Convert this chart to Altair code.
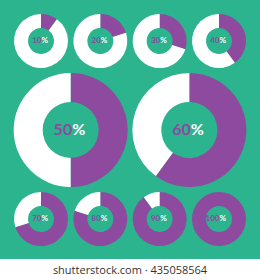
import math
import altair as alt
import pandas as pd

# ---- data ----
percents = [10, 20, 30, 40, 50, 60, 70, 80, 90, 100]
donut_kind = ["small", "small", "small", "small", "big", "big",
              "small", "small", "small", "small"]
watermark = "shutterstock.com · 435058564"

GREEN = "#2bb48e"
PURPLE = "#8e4a9e"
WHITE = "#ffffff"

# grid layout derived from order: 4 small / 2 big / 4 small
grid = []
for i, k in enumerate(donut_kind):
    if i < 4:
        grid.append((i, 0))
    elif i < 6:
        grid.append((0.5 + 2 * (i - 4), 1))
    else:
        grid.append((i - 6, 2))

seg_rows, lab_rows = [], []
for p, k, (c, r) in zip(percents, donut_kind, grid):
    seg_rows.append(dict(kind=k, col=c, row=r, start=0, end=p, part="fill"))
    if p < 100:
        seg_rows.append(dict(kind=k, col=c, row=r, start=p, end=100, part="rest"))
    lab_rows.append(dict(kind=k, col=c, row=r, num=str(p), pct="%"))

segs = pd.DataFrame(seg_rows)
labs = pd.DataFrame(lab_rows)

X = alt.X("col:Q", axis=None, scale=alt.Scale(domain=[0, 3], range=[41, 219]))
Y = alt.Y("row:Q", axis=None, scale=alt.Scale(domain=[0, 2], range=[41, 219]))
TH = alt.Theta("start:Q", stack=False,
               scale=alt.Scale(domain=[0, 100], range=[0, 2 * math.pi]))
TH2 = alt.Theta2("end:Q")
COL = alt.Color("part:N", legend=None,
                scale=alt.Scale(domain=["fill", "rest"], range=[PURPLE, WHITE]))

def arcs(kind, ro, ri):
    return alt.Chart(segs).transform_filter(alt.datum.kind == kind).mark_arc(
        radius=ro, radius2=ri).encode(x=X, y=Y, theta=TH, theta2=TH2, color=COL)

def texts(kind, size, dx):
    base = alt.Chart(labs).transform_filter(alt.datum.kind == kind)
    num = base.mark_text(align="right", baseline="middle", font="Lato",
                         fontWeight="bold", fontSize=size, dx=dx,
                         color=PURPLE).encode(x=X, y=Y, text="num:N")
    pc = base.mark_text(align="left", baseline="middle", font="Lato",
                        fontWeight="bold", fontSize=size, dx=dx,
                        color=WHITE).encode(x=X, y=Y, text="pct:N")
    return num + pc

chart = alt.layer(
    arcs("small", 27, 13),
    arcs("big", 57, 28),
    texts("small", 8, 0.5),
    texts("big", 16, 1.5),
).properties(
    width=260, height=259,
    autosize=alt.AutoSizeParams(type="none"),
    padding={"left": 0, "top": 0, "right": 0, "bottom": 21},
    background=WHITE,
    title=alt.TitleParams(watermark, orient="bottom", anchor="middle",
                          font="Open Sans", fontSize=11, fontWeight="normal",
                          color="#333333", offset=6),
).configure_view(fill=GREEN, strokeWidth=0)

chart.save("out.html", embed_options={"renderer": "svg", "actions": False})
